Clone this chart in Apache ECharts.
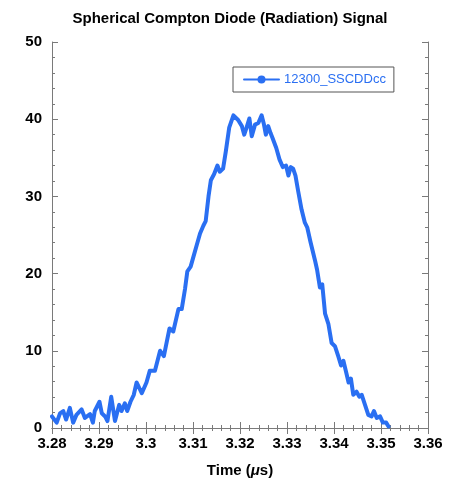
<!DOCTYPE html>
<html>
<head>
<meta charset="utf-8">
<script src="https://cdn.jsdelivr.net/npm/echarts@6/dist/echarts.min.js"></script>
<style>
  html, body { margin: 0; padding: 0; background: #fff; }
  #chart { width: 460px; height: 483px; }
</style>
</head>
<body>
<div id="chart"></div>
<script>
// time in microseconds, signal
const timeUs = [
  3.28, 3.281, 3.2817, 3.2824, 3.283, 3.2838, 3.2845, 3.2852, 3.2863, 3.287,
  3.2881, 3.2887, 3.2891, 3.2901, 3.2906, 3.2913, 3.2918, 3.2926, 3.2934, 3.2943,
  3.2948, 3.2955, 3.296, 3.2967, 3.2974, 3.298, 3.2991, 3.3001, 3.3008, 3.3019,
  3.303, 3.3038, 3.305, 3.3058, 3.3069, 3.3076, 3.3083, 3.3088, 3.3095, 3.3101,
  3.3108, 3.3115, 3.3122, 3.3127, 3.3133, 3.3138, 3.3145, 3.3152, 3.3157, 3.3164,
  3.317, 3.3177, 3.3186, 3.3196, 3.3204, 3.3209, 3.3214, 3.322, 3.3225, 3.3232,
  3.3239, 3.3246, 3.3251, 3.3255, 3.326, 3.3265, 3.3269, 3.3277, 3.3284, 3.3291,
  3.3298, 3.3303, 3.3308, 3.3313, 3.3318, 3.3324, 3.3331, 3.3338, 3.3343, 3.335,
  3.336, 3.3364, 3.337, 3.3375, 3.3381, 3.3388, 3.3395, 3.3402, 3.3409, 3.3415,
  3.342, 3.3426, 3.3431, 3.3436, 3.3441, 3.3448, 3.3454, 3.3459, 3.3466, 3.3473,
  3.348, 3.3485, 3.3491, 3.3498, 3.3504, 3.3511, 3.3516
];
const signal = [
  1.5, 0.7, 1.9, 2.2, 1.1, 2.6, 0.7, 1.7, 2.4, 1.3,
  1.8, 0.7, 2.2, 3.4, 1.9, 1.5, 0.9, 4.05, 0.9, 3.0,
  2.2, 3.2, 2.2, 3.4, 4.3, 5.9, 4.5, 5.9, 7.4, 7.4,
  10.0, 9.3, 12.9, 12.5, 15.4, 15.4, 18.0, 20.3, 20.9, 22.2,
  23.7, 25.2, 26.2, 26.8, 30.0, 32.1, 32.9, 34.0, 33.2, 33.6,
  35.9, 38.9, 40.5, 39.9, 39.1, 38.0, 38.9, 40.1, 37.8, 39.3,
  39.5, 40.5, 39.3, 38.0, 39.1, 38.2, 37.6, 36.3, 34.8, 33.8,
  34.0, 32.7, 33.8, 33.6, 32.7, 30.6, 28.3, 26.6, 26.0, 24.1,
  21.6, 20.5, 18.2, 18.6, 14.8, 13.5, 11.0, 10.6, 9.3, 8.1,
  8.7, 7.2, 5.9, 6.4, 4.3, 4.7, 4.05, 4.3, 3.0, 1.7,
  1.5, 2.2, 1.3, 1.5, 0.7, 0.7, 0.2
];
const seriesName = '12300_SSCDDcc';

const lineColor = '#2a6ff2';
const axisColor = '#7a7a7a';
const font = 'Liberation Sans, Arial, Helvetica, sans-serif';

const myChart = echarts.init(document.getElementById('chart'));

const tickStyle = {
  axisLine: { show: true, lineStyle: { color: axisColor, width: 1 } },
  axisTick: { show: true, inside: true, length: 6, lineStyle: { color: axisColor } },
  minorTick: { show: true, splitNumber: 5, length: 3, lineStyle: { color: axisColor } },
  splitLine: { show: false }
};

const option = {
  animation: false,
  title: {
    text: 'Spherical Compton Diode (Radiation) Signal',
    left: 'center',
    top: 6,
    textStyle: { fontFamily: font, fontSize: 15, fontWeight: 'bold', color: '#000' }
  },
  legend: {
    data: [seriesName],
    left: 233,
    top: 67,
    padding: [6, 8, 6, 10],
    itemWidth: 35,
    itemHeight: 10,
    borderColor: '#555',
    borderWidth: 1,
    borderRadius: 0,
    textStyle: { fontFamily: font, fontSize: 13, color: lineColor }
  },
  grid: { left: 52, right: 32, top: 42, bottom: 46 },
  xAxis: [{
    type: 'value',
    min: 3.28,
    max: 3.36,
    interval: 0.01,
    name: '{a|Time (}{b|μ}{a|s)}',
    nameLocation: 'middle',
    nameGap: 35,
    nameTextStyle: {
      rich: {
        a: { fontFamily: font, fontSize: 15, fontWeight: 'bold', color: '#000' },
        b: { fontFamily: font, fontSize: 15, fontWeight: 'bold', fontStyle: 'italic', color: '#000' }
      }
    },
    axisLabel: {
      margin: 8,
      fontFamily: font, fontSize: 15, fontWeight: 'bold', color: '#000',
      formatter: v => String(+v.toFixed(2))
    },
    ...tickStyle
  }, {
    type: 'value',
    position: 'top',
    min: 3.28,
    max: 3.36,
    interval: 0.01,
    axisLabel: { show: false },
    ...tickStyle
  }],
  yAxis: [{
    type: 'value',
    min: 0,
    max: 50,
    interval: 10,
    axisLabel: { margin: 10, fontFamily: font, fontSize: 15, fontWeight: 'bold', color: '#000' },
    ...tickStyle
  }, {
    type: 'value',
    position: 'right',
    min: 0,
    max: 50,
    interval: 10,
    axisLabel: { show: false },
    ...tickStyle
  }],
  series: [{
    name: seriesName,
    type: 'line',
    data: timeUs.map((t, i) => [t, signal[i]]),
    showSymbol: false,
    symbol: 'circle',
    symbolSize: 8,
    itemStyle: { color: lineColor },
    lineStyle: { color: lineColor, width: 4, join: 'round', cap: 'round' },
    clip: false
  }]
};

myChart.setOption(option);
</script>
</body>
</html>
